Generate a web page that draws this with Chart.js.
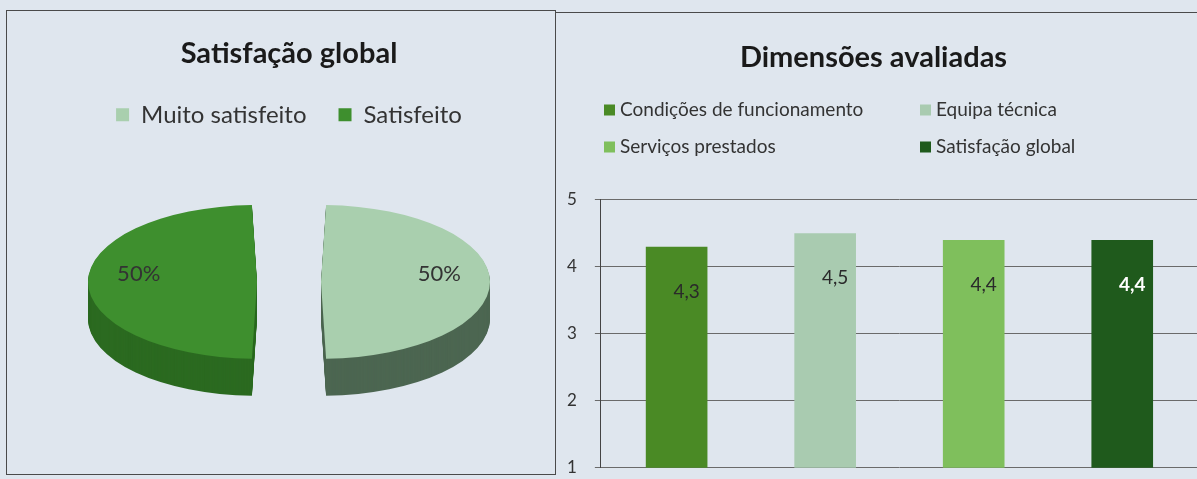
<!DOCTYPE html>
<html>
<head>
<meta charset="utf-8">
<script src="https://cdn.jsdelivr.net/npm/chart.js@4"></script>
<style>
html,body{margin:0;padding:0;width:1197px;height:479px;overflow:hidden;background:#dfe6ee;}
#frame{position:absolute;left:6px;top:10px;width:548px;height:463px;border:1px solid #4a4a4a;}
#topline{position:absolute;left:555px;top:12px;width:700px;border-top:1px solid #4a4a4a;}
#pieChart{position:absolute;left:11px;top:0;}
#barChart{position:absolute;left:547px;top:0;}
</style>
</head>
<body>
<div id="frame"></div>
<div id="topline"></div>
<canvas id="pieChart" width="556" height="479"></canvas>
<canvas id="barChart" width="651" height="496"></canvas>
<script>
const el=id=>document.getElementById(id);

// PIE DATA
const pieLabels=["Muito satisfeito","Satisfeito"];
const pieValues=[50,50];
const pieColors=["#a9cfae","#3e8f2e"];
const pieSide=["#4c6651","#2b6a20"];

// BAR DATA
const barCategory=[""];
const barLabels=["Condições de funcionamento","Equipa técnica","Serviços prestados","Satisfação global"];
const barValues=[4.3,4.5,4.4,4.4];
const barColors=["#4a8a25","#a9cbb0","#7fbf5c","#1f5a1c"];
const valueColors=["#2a2a2a","#2a2a2a","#2a2a2a","#ffffff"];
const yTicks=[1,2,3,4,5];

const tilt=0.455, depth=37;

// 3D look: squash the pie and stack darker copies under it
const pie3d={
id:"pie3d",
beforeDatasetsDraw(chart){
const ctx=chart.ctx;
const arcs=chart.getDatasetMeta(0).data;
const cx=arcs[0].x, cy=arcs[0].y;
ctx.save();
ctx.translate(cx,cy);ctx.scale(1,tilt);ctx.translate(-cx,-cy);
for(let d=depth;d>0;d--){
ctx.save();
ctx.translate(0,d/tilt);
arcs.forEach((a,i)=>{
let side=Object.create(a);
side.options=Object.assign({},a.options,{backgroundColor:pieSide[i]});
a.draw.call(side,ctx);
});
ctx.restore();
}
},
afterDatasetsDraw(chart){
const ctx=chart.ctx;
ctx.restore();
const arcs=chart.getDatasetMeta(0).data;
ctx.save();
ctx.font="22px Lato";
ctx.fillStyle="#333";
ctx.textAlign="center";ctx.textBaseline="middle";
arcs.forEach((a,i)=>{
let mid=(a.startAngle+a.endAngle)/2;
let shift=a.options.offset/4;
let r=shift+(a.outerRadius+shift)*0.7;
ctx.fillText(pieValues[i]+"%",a.x+Math.cos(mid)*r,a.y-8);
});
ctx.restore();
}
};

new Chart(el("pieChart"),{
type:"pie",
data:{
labels:pieLabels,
datasets:[{data:pieValues,backgroundColor:pieColors,borderWidth:0,offset:128,radius:137,clip:false}]
},
options:{
responsive:false,
animation:false,
layout:{padding:{bottom:52}},
plugins:{
title:{display:true,text:"Satisfação global",color:"#1a1a1a",font:{family:"Lato",size:29,weight:"bold"},padding:{top:36,bottom:0}},
legend:{position:"top",labels:{font:{family:"Lato",size:24},color:"#333",boxWidth:13,boxHeight:13,padding:32}},
tooltip:{enabled:false}
}
},
plugins:[pie3d]
});

// legend in two aligned columns
const legendCols=[57,373], legendRows=[110,147];
const barLegend={
id:"barLegend",
afterDraw(chart){
const ctx=chart.ctx;
ctx.save();
ctx.font="19px Lato";
ctx.textBaseline="middle";
chart.data.datasets.forEach((ds,i)=>{
let x=legendCols[i%2], y=legendRows[Math.floor(i/2)];
ctx.fillStyle=ds.backgroundColor;
ctx.fillRect(x,y-5.5,11,11);
ctx.fillStyle="#333";
ctx.fillText(ds.label,x+16,y);
});
ctx.restore();
}
};

const barValueLabels={
id:"barValueLabels",
afterDatasetsDraw(chart){
const ctx=chart.ctx;
ctx.save();
ctx.textAlign="center";ctx.textBaseline="middle";
chart.data.datasets.forEach((ds,i)=>{
let bar=chart.getDatasetMeta(i).data[0];
ctx.font=(i===3?"bold ":"")+"19px Lato";
ctx.fillStyle=valueColors[i];
ctx.fillText(String(ds.data[0]).replace(".",","),bar.x+10,bar.y+45);
});
ctx.restore();
}
};

new Chart(el("barChart"),{
type:"bar",
data:{
labels:barCategory,
datasets:barLabels.map((l,i)=>({label:l,data:[barValues[i]],backgroundColor:barColors[i],categoryPercentage:0.995,barPercentage:0.415}))
},
options:{
responsive:false,
animation:false,
layout:{padding:{left:2,right:0,top:0,bottom:12}},
plugins:{
title:{display:true,text:"Dimensões avaliadas",color:"#1a1a1a",font:{family:"Lato",size:29,weight:"bold"},padding:{top:40,bottom:125}},
legend:{display:false},
tooltip:{enabled:false}
},
scales:{
x:{display:false},
y:{min:yTicks[0],max:yTicks[yTicks.length-1],
ticks:{stepSize:1,color:"#333",font:{family:"Lato",size:17},padding:18},
grid:{color:"#6a6a6a",tickLength:6},
border:{color:"#444"}}
}
},
plugins:[barLegend,barValueLabels]
});
</script>
</body>
</html>
